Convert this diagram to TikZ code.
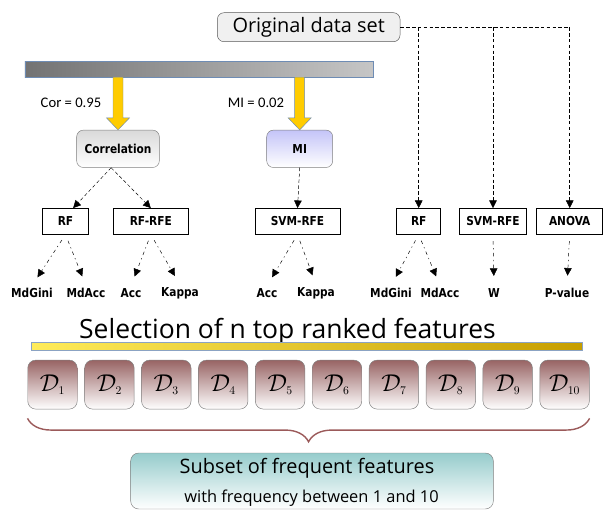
\documentclass[tikz,border=0pt]{standalone}
\usepackage{fontspec}
\usepackage{amsmath}
\usepackage{xcolor}
\usepackage{tikz}
\usetikzlibrary{calc,arrows,arrows.meta,shapes,positioning,decorations.pathreplacing}
\setsansfont{DejaVu Sans}[FakeStretch=0.86]
\newfontfamily\handfont{Open Sans}
\newfontfamily\calfont{Carlito}
\definecolor{rimblue}{RGB}{110,140,180}
\definecolor{gold}{RGB}{255,204,0}
\definecolor{darkgold}{RGB}{198,158,0}
\definecolor{lightgold}{RGB}{255,236,90}
\definecolor{rose}{RGB}{152,100,100}
\definecolor{braceclr}{RGB}{155,90,90}
\definecolor{tealtop}{RGB}{150,204,204}
\definecolor{lavender}{RGB}{196,196,248}

\begin{document}
\begin{tikzpicture}[x=0.3mm, y=-0.3mm,
  >={Triangle[length=6.5pt,width=6.5pt]},
  method/.style={draw, thin, fill=white, font=\sffamily\bfseries\fontsize{10.5}{12}\selectfont, minimum height=7.8mm, inner sep=2pt},
  measure/.style={font=\sffamily\bfseries\fontsize{10.5}{12}\selectfont, inner sep=2pt},
  filter/.style={draw=gray, rounded corners=2mm, font=\sffamily\bfseries\fontsize{10.5}{12}\selectfont, minimum height=11.2mm},
  topdash/.style={->, densely dashed, thin},
  lowdash/.style={->, thin, dash pattern=on 3pt off 3pt on 1pt off 3pt, shorten <=2mm, shorten >=3mm},
  fat/.style={fill=gold, draw=rimblue, thin},
  dbox/.style={draw=gray, rounded corners=2.4mm, top color=rose, bottom color=white, minimum width=14.85mm, minimum height=14.7mm, font=\fontsize{20}{22}\selectfont},
  hand/.style={font=\handfont\fontsize{17}{19}\selectfont}
]

  \useasboundingbox (0,0) rectangle (603,510);

  % data set and the two filters
  \node[hand, draw=gray!70!black, fill=gray!12, rounded corners=2mm, minimum width=54.8mm, minimum height=8.7mm, inner sep=1pt] (orig) at (308.7,27.2) {Original data set};
  \node[draw=rimblue, left color=gray!90!black, right color=gray!45, minimum width=104.4mm, minimum height=4.8mm] (bar) at (199,69) {};
  \node[filter, top color=gray!30, bottom color=white, minimum width=24.8mm] (corr) at (118,148.8) {Correlation};
  \node[filter, top color=lavender, bottom color=white, minimum width=19.8mm] (mi) at (299.7,148.8) {MI};
  \node[font=\calfont\fontsize{12.5}{14}\selectfont] (corlbl) at (71,103) {Cor = 0.95};
  \node[font=\calfont\fontsize{12.5}{14}\selectfont] (milbl) at (256,103) {MI = 0.02};

  \filldraw[fat] ($(bar.south -| corr.north)+(-5,0)$) -- ($(corr.north)+(-5,-12)$) -- ($(corr.north)+(-11.5,-12)$) -- (corr.north) -- ($(corr.north)+(11.5,-12)$) -- ($(corr.north)+(5,-12)$) -- ($(bar.south -| corr.north)+(5,0)$) -- cycle;
  \filldraw[fat] ($(bar.south -| mi.north)+(-5,0)$) -- ($(mi.north)+(-5,-12)$) -- ($(mi.north)+(-11.5,-12)$) -- (mi.north) -- ($(mi.north)+(11.5,-12)$) -- ($(mi.north)+(5,-12)$) -- ($(bar.south -| mi.north)+(5,0)$) -- cycle;

  % ranking methods
  \node[method, minimum width=13.7mm] (rf1) at (65.5,221.3) {RF};
  \node[method, minimum width=22.5mm] (rfrfe) at (150.8,221.3) {RF-RFE};
  \node[method, minimum width=25.5mm] (svm1) at (297.5,221.3) {SVM-RFE};
  \node[method, minimum width=13.2mm] (rf2) at (418.7,221.3) {RF};
  \node[method, minimum width=20.2mm] (svm2) at (493,221.3) {SVM-RFE};
  \node[method, minimum width=19.8mm] (anova) at (569.7,221.3) {ANOVA};

  \draw[topdash] (corr.250) -- (rf1.60);
  \draw[topdash] (corr.250) -- (rfrfe.north);
  \draw[topdash] (mi.south) -- (svm1.north);
  \draw[densely dashed, thin] (orig.east) -- (orig.east -| anova.north);
  \draw[topdash] (orig.east -| rf2.north) -- (rf2.north);
  \draw[topdash] (orig.east -| svm2.north) -- (svm2.north);
  \draw[topdash] (orig.east -| anova.north) -- (anova.north);

  % importance measures
  \node[measure] (mdg1) at (32,293) {MdGini};
  \node[measure] (mda1) at (86,293) {MdAcc};
  \node[measure] (acc1) at (131,293) {Acc};
  \node[measure] (kap1) at (180,293) {Kappa};
  \node[measure] (acc2) at (267,293) {Acc};
  \node[measure] (kap2) at (316,293) {Kappa};
  \node[measure] (mdg2) at (391,293) {MdGini};
  \node[measure] (mda2) at (440,293) {MdAcc};
  \node[measure] (wstat) at (494,293) {W};
  \node[measure] (pval) at (567,293) {P-value};

  \draw[lowdash] (rf1.south) -- (mdg1.north);
  \draw[lowdash] (rf1.south) -- (mda1.north);
  \draw[lowdash] (rfrfe.south) -- (acc1.north);
  \draw[lowdash] (rfrfe.south) -- (kap1.north);
  \draw[lowdash] (svm1.south) -- (acc2.north);
  \draw[lowdash] (svm1.south) -- (kap2.north);
  \draw[lowdash] (rf2.south) -- (mdg2.north);
  \draw[lowdash] (rf2.south) -- (mda2.north);
  \draw[lowdash] (svm2.south) -- (wstat.north);
  \draw[lowdash] (anova.south) -- (pval.north);

  % top ranked subsets
  \node[font=\handfont\fontsize{22.6}{25}\selectfont, anchor=base] (sel) at (287.5,338) {Selection of n top ranked features};
  \node[draw=rimblue!80, left color=lightgold, right color=darkgold, minimum width=165.2mm, minimum height=2.3mm, inner sep=0pt] (ybar) at (307,345.9) {};

  \node[dbox] (d1) at (52.5,384.6) {$\mathcal{D}_{\scriptscriptstyle 1}$};
  \node[dbox] (d2) at (109.4,384.6) {$\mathcal{D}_{\scriptscriptstyle 2}$};
  \node[dbox] (d3) at (166.3,384.6) {$\mathcal{D}_{\scriptscriptstyle 3}$};
  \node[dbox] (d4) at (223.2,384.6) {$\mathcal{D}_{\scriptscriptstyle 4}$};
  \node[dbox] (d5) at (280.1,384.6) {$\mathcal{D}_{\scriptscriptstyle 5}$};
  \node[dbox] (d6) at (337,384.6) {$\mathcal{D}_{\scriptscriptstyle 6}$};
  \node[dbox] (d7) at (393.9,384.6) {$\mathcal{D}_{\scriptscriptstyle 7}$};
  \node[dbox] (d8) at (450.8,384.6) {$\mathcal{D}_{\scriptscriptstyle 8}$};
  \node[dbox] (d9) at (507.7,384.6) {$\mathcal{D}_{\scriptscriptstyle 9}$};
  \node[dbox] (d10) at (564.6,384.6) {$\mathcal{D}_{\scriptscriptstyle 10}$};

  \coordinate (bl) at ($(d1.south west)+(0,9)$);
  \coordinate (br) at ($(d10.south east)+(0,9)$);
  \draw[braceclr, line width=1.2pt, decorate, decoration={brace, mirror, amplitude=20pt}] (bl) -- (br);

  % frequent features
  \node[draw=gray, rounded corners=2.4mm, top color=tealtop, bottom color=white, minimum width=108.8mm, minimum height=16.8mm] (subset) at (312,481) {};
  \node[font=\handfont\fontsize{17}{19}\selectfont, anchor=base] (sub1) at (307,473) {Subset of frequent features};
  \node[font=\handfont\fontsize{14}{16}\selectfont, anchor=base] (sub2) at (311.5,502) {with frequency between 1 and 10};

\end{tikzpicture}
\end{document}
